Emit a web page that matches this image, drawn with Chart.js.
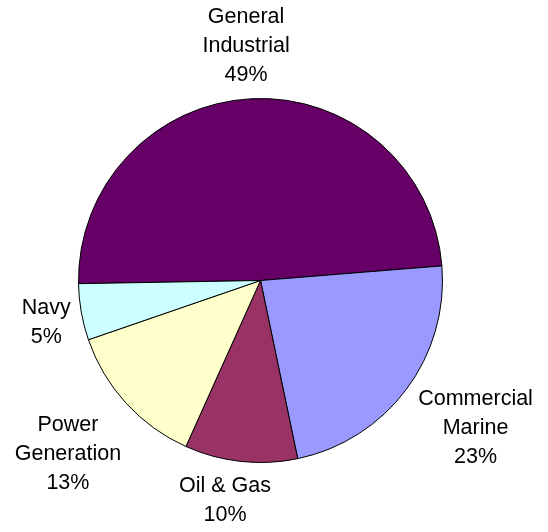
<!DOCTYPE html>
<html>
<head>
<meta charset="utf-8">
<script src="https://cdn.jsdelivr.net/npm/chart.js@4"></script>
<style>
  html, body { margin: 0; padding: 0; background: #fff; }
  #wrap { width: 548px; height: 532px; }
</style>
</head>
<body>
<div id="wrap"><canvas id="pieChart" width="548" height="532"></canvas></div>
<script>
// categorias y valores (porcentajes)
const categories = [['General', 'Industrial'], ['Commercial', 'Marine'], ['Oil & Gas'], ['Power', 'Generation'], ['Navy']];
const shares = [49, 23, 10, 13, 5];
const colors = ['#660066', '#9999FF', '#993366', '#FFFFCC', '#CCFFFF'];

// pequeños ajustes a mano para que las etiquetas caigan donde Excel las pone
const nudges = [[-3, -1], [17, 8], [-10, 2], [-13, 16], [-3, 4]];

const labelPlugin = {
    id: 'outerLabels',
    afterDatasetsDraw(chart) {
        const ctx = chart.ctx;
        const meta = chart.getDatasetMeta(0);
        const lineH = 29;
        ctx.save();
        ctx.font = '21.5px "Liberation Sans", Arial, sans-serif';
        ctx.fillStyle = '#000';
        ctx.textAlign = 'center';
        ctx.textBaseline = 'middle';
        meta.data.forEach((arc, i) => {
            const lines = categories[i].concat([shares[i] + '%']);
            const mid = (arc.startAngle + arc.endAngle) / 2;
            const cos = Math.cos(mid), sin = Math.sin(mid);
            const halfW = Math.max(...lines.map(l => ctx.measureText(l).width)) / 2;
            const halfH = lines.length * lineH / 2;
            const r = arc.outerRadius + 8;
            const cx = arc.x + r * cos + halfW * cos + nudges[i][0];
            const cy = arc.y + r * sin + halfH * sin + nudges[i][1];
            lines.forEach((l, k) => {
                ctx.fillText(l, cx, cy - halfH + lineH / 2 + k * lineH);
            });
        });
        ctx.restore();
    }
};

const ctx = document.getElementById('pieChart').getContext('2d');
new Chart(ctx, {
    type: 'pie',
    data: {
        labels: categories.map(c => c.join(' ')),
        datasets: [{
            data: shares,
            backgroundColor: colors,
            borderColor: '#000',
            borderWidth: 1
        }]
    },
    options: {
        responsive: false,
        animation: false,
        rotation: -91,
        layout: { padding: { left: 78, top: 98, right: 105, bottom: 69 } },
        plugins: {
            legend: { display: false },
            tooltip: { enabled: false }
        }
    },
    plugins: [labelPlugin]
});
</script>
</body>
</html>
